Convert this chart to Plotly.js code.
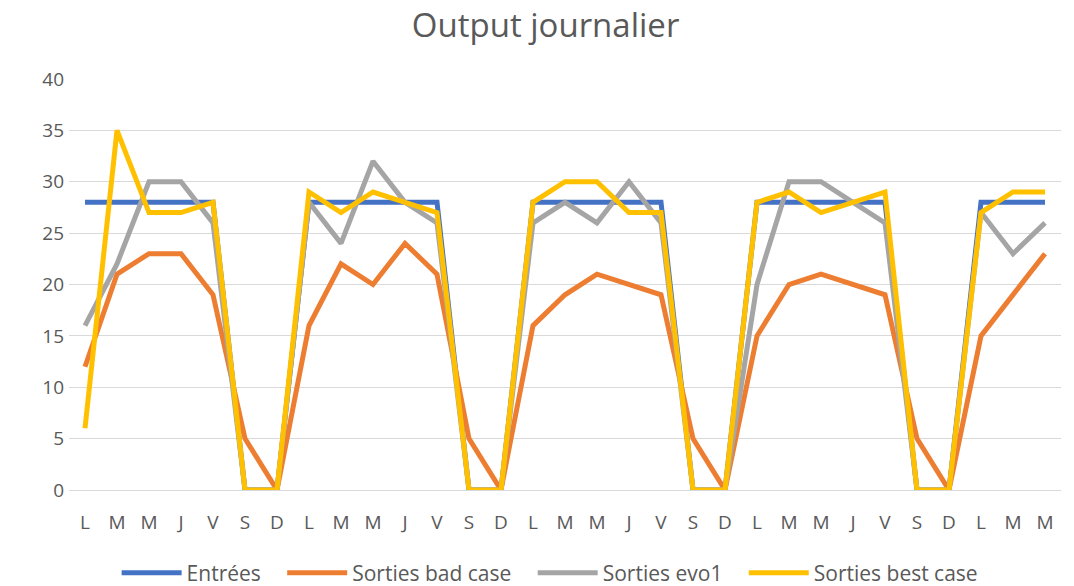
<!DOCTYPE html>
<html>
<head>
<meta charset="utf-8">
<script src="https://cdn.plot.ly/plotly-3.0.1.min.js"></script>
<style>html,body{margin:0;padding:0;background:#fff;}#chart{width:1074px;height:586px;}</style>
</head>
<body>
<div id="chart"></div>
<script>
const dayLabels = ["L","M","M","J","V","S","D","L","M","M","J","V","S","D","L","M","M","J","V","S","D","L","M","M","J","V","S","D","L","M","M"];
const entrees   = [28,28,28,28,28,0,0, 28,28,28,28,28,0,0, 28,28,28,28,28,0,0, 28,28,28,28,28,0,0, 28,28,28];
const badCase   = [12,21,23,23,19,5,0, 16,22,20,24,21,5,0, 16,19,21,20,19,5,0, 15,20,21,20,19,5,0, 15,19,23];
const evo1      = [16,22,30,30,26,0,0, 28,24,32,28,26,0,0, 26,28,26,30,26,0,0, 20,30,30,28,26,0,0, 27,23,26];
const bestCase  = [6,35,27,27,28,0,0, 29,27,29,28,27,0,0, 28,30,30,27,27,0,0, 28,29,27,28,29,0,0, 27,29,29];
const seriesNames = ["Entrées","Sorties bad case","Sorties evo1","Sorties best case"];
const colors = ["#4472C4","#ED7D31","#A5A5A5","#FFC000"];

const pad = "\u00a0\u00a0\u00a0";
const xIdx = dayLabels.map((_, i) => i);
const data = [entrees, badCase, evo1, bestCase].map((ys, k) => ({
  x: xIdx, y: ys, type: "scatter", mode: "lines",
  name: seriesNames[k] + (k < 3 ? pad : ""),
  line: {color: colors[k], width: 5, shape: "linear"}
}));

const ff = "'Open Sans', sans-serif";
const layout = {
  width: 1074, height: 586,
  margin: {l: 69, r: 13, t: 79, b: 96, autoexpand: false},
  paper_bgcolor: "#fff", plot_bgcolor: "#fff",
  font: {family: ff, color: "#595959", size: 19},
  title: {text: "Output journalier", font: {family: ff, size: 33, color: "#595959"}, x: 0.508, xanchor: "center", y: 0.957, yanchor: "middle"},
  xaxis: {
    range: [-0.5, 30.5], tickmode: "array", tickvals: xIdx, ticktext: dayLabels,
    showgrid: false, zeroline: false, showline: true, linecolor: "#D9D9D9", linewidth: 1,
    ticks: "", ticklabelstandoff: 15, tickfont: {family: ff, size: 19, color: "#595959"}, fixedrange: true, automargin: false
  },
  yaxis: {
    range: [0, 40], dtick: 5, tick0: 0, showgrid: true, gridcolor: "#D9D9D9", gridwidth: 1,
    zeroline: false, showline: false, ticks: "", ticklabelstandoff: 4,
    tickfont: {family: ff, size: 19, color: "#595959"}, fixedrange: true, automargin: false
  },
  showlegend: true,
  legend: {orientation: "h", x: 0.485, xanchor: "center", y: -0.202, yanchor: "middle",
    font: {family: ff, size: 21, color: "#595959"}, itemwidth: 60, tracegroupgap: 0}
};
Plotly.newPlot("chart", data, layout, {staticPlot: true, displayModeBar: false});
</script>
</body>
</html>
